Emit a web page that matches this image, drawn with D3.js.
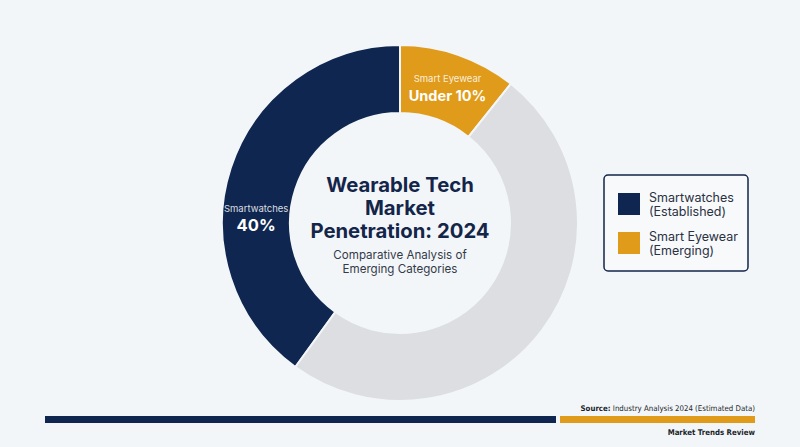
<!DOCTYPE html>
<html>
<head>
<meta charset="utf-8">
<script src="https://cdn.jsdelivr.net/npm/d3@7"></script>
<style>
  html, body { margin: 0; padding: 0; background: #f3f6f8; }
  svg { display: block; }
</style>
</head>
<body>
<svg id="chart" width="800" height="447"></svg>
<script>
// ---- data ----
const categories = ["Smartwatches", "Smart Eyewear", "Other"];
const values = [40, 10.7, 49.3];
const sliceLabels = ["Smartwatches", "Smart Eyewear", null];
const sliceValueLabels = ["40%", "Under 10%", null];
const legendLabels = [["Smartwatches", "(Established)"], ["Smart Eyewear", "(Emerging)"]];
const titleLines = ["Wearable Tech", "Market", "Penetration: 2024"];
const subtitleLines = ["Comparative Analysis of", "Emerging Categories"];
const sourceBold = "Source:";
const sourceText = " Industry Analysis 2024 (Estimated Data)";
const footerText = "Market Trends Review";

// ---- style ----
const colors = ["#0f2650", "#e09b1a", "#dcdee1"];
const navy = "#14254a";
const W = 800, H = 447;
const cx = 400, cy = 223, rOuter = 178, rInner = 110;

const svg = d3.select("#chart");
svg.append("rect").attr("width", W).attr("height", H).attr("fill", "#f3f6f8");

const g = svg.append("g").attr("transform", `translate(${cx},${cy})`);

// smartwatches runs counter-clockwise from top, eyewear clockwise from top
const total = d3.sum(values);
const toAng = d3.scaleLinear().domain([0, total]).range([0, 2 * Math.PI]);
const slices = [
  { i: 0, startAngle: -toAng(values[0]), endAngle: 0 },
  { i: 1, startAngle: 0, endAngle: toAng(values[1]) },
  { i: 2, startAngle: toAng(values[1]), endAngle: toAng(values[1]) + toAng(values[2]) }
];
const arc = d3.arc().innerRadius(rInner).outerRadius(rOuter);

g.selectAll("path.slice").data(slices).join("path")
  .attr("class", "slice")
  .attr("d", arc)
  .attr("fill", d => colors[d.i])
  .attr("stroke", "#f3f6f8")
  .attr("stroke-width", 2);

// slice labels
const labelArc = d3.arc().innerRadius((rInner + rOuter) / 2).outerRadius((rInner + rOuter) / 2);
slices.forEach(d => {
  if (!sliceLabels[d.i]) return;
  let a0 = d.startAngle, a1 = d.endAngle;
  if (d.i === 0) { a0 = -1.56; a1 = -1.50; } // label sits at the left side of the ring
  const [lx, ly] = labelArc.centroid({ startAngle: a0, endAngle: a1 });
  g.append("text").attr("x", lx).attr("y", ly - 5)
    .attr("text-anchor", "middle")
    .attr("font-family", "Inter, 'Noto Sans', sans-serif")
    .attr("font-size", 9.5)
    .attr("fill", "rgba(255,255,255,0.85)")
    .text(sliceLabels[d.i]);
  g.append("text").attr("x", lx).attr("y", ly + 13.5)
    .attr("text-anchor", "middle")
    .attr("font-family", "Inter, 'Noto Sans', sans-serif")
    .attr("font-size", d.i === 0 ? 16.5 : 14.5)
    .attr("font-weight", 700)
    .attr("fill", "#ffffff")
    .text(sliceValueLabels[d.i]);
});

// center title
const tg = svg.append("g");
titleLines.forEach((t, k) => {
  tg.append("text").attr("x", cx).attr("y", 192 + k * 23)
    .attr("text-anchor", "middle")
    .attr("font-family", "Inter, 'Noto Sans', sans-serif")
    .attr("font-size", 20.3)
    .attr("font-weight", 700)
    .attr("fill", navy)
    .text(t);
});
subtitleLines.forEach((t, k) => {
  tg.append("text").attr("x", cx).attr("y", 259 + k * 13.5)
    .attr("text-anchor", "middle")
    .attr("font-family", "Inter, 'Noto Sans', sans-serif")
    .attr("font-size", 11.6)
    .attr("fill", "#333a4a")
    .text(t);
});

// legend
const lg = svg.append("g").attr("transform", "translate(604,175)");
lg.append("rect").attr("width", 144).attr("height", 96).attr("rx", 4)
  .attr("fill", "#f7f9fb").attr("stroke", navy).attr("stroke-width", 1.5);
legendLabels.forEach((lines, k) => {
  const y0 = 18 + k * 39;
  lg.append("rect").attr("x", 14).attr("y", y0).attr("width", 22).attr("height", 22)
    .attr("fill", colors[k]);
  lines.forEach((t, j) => {
    lg.append("text").attr("x", 45).attr("y", y0 + 9 + j * 14)
      .attr("font-family", "Inter, 'Noto Sans', sans-serif")
      .attr("font-size", 12.5)
      .attr("fill", "#2a3142")
      .text(t);
  });
});

// footer
svg.append("rect").attr("x", 45).attr("y", 416).attr("width", 511).attr("height", 7).attr("fill", "#0f2650");
svg.append("rect").attr("x", 560).attr("y", 416).attr("width", 195).attr("height", 7).attr("fill", "#e09b1a");

const narrow = "'Liberation Sans Narrow', 'DejaVu Sans Condensed', sans-serif";
const src = svg.append("text").attr("x", 755).attr("y", 411)
  .attr("text-anchor", "end")
  .attr("font-family", narrow)
  .attr("font-size", 7.8)
  .attr("fill", "#1a1f2b");
src.append("tspan").attr("font-weight", 700).text(sourceBold);
src.append("tspan").text(sourceText);

svg.append("text").attr("x", 755).attr("y", 435)
  .attr("text-anchor", "end")
  .attr("font-family", narrow)
  .attr("font-size", 7.8)
  .attr("font-weight", 700)
  .attr("fill", "#1a1f2b")
  .text(footerText);
</script>
</body>
</html>
